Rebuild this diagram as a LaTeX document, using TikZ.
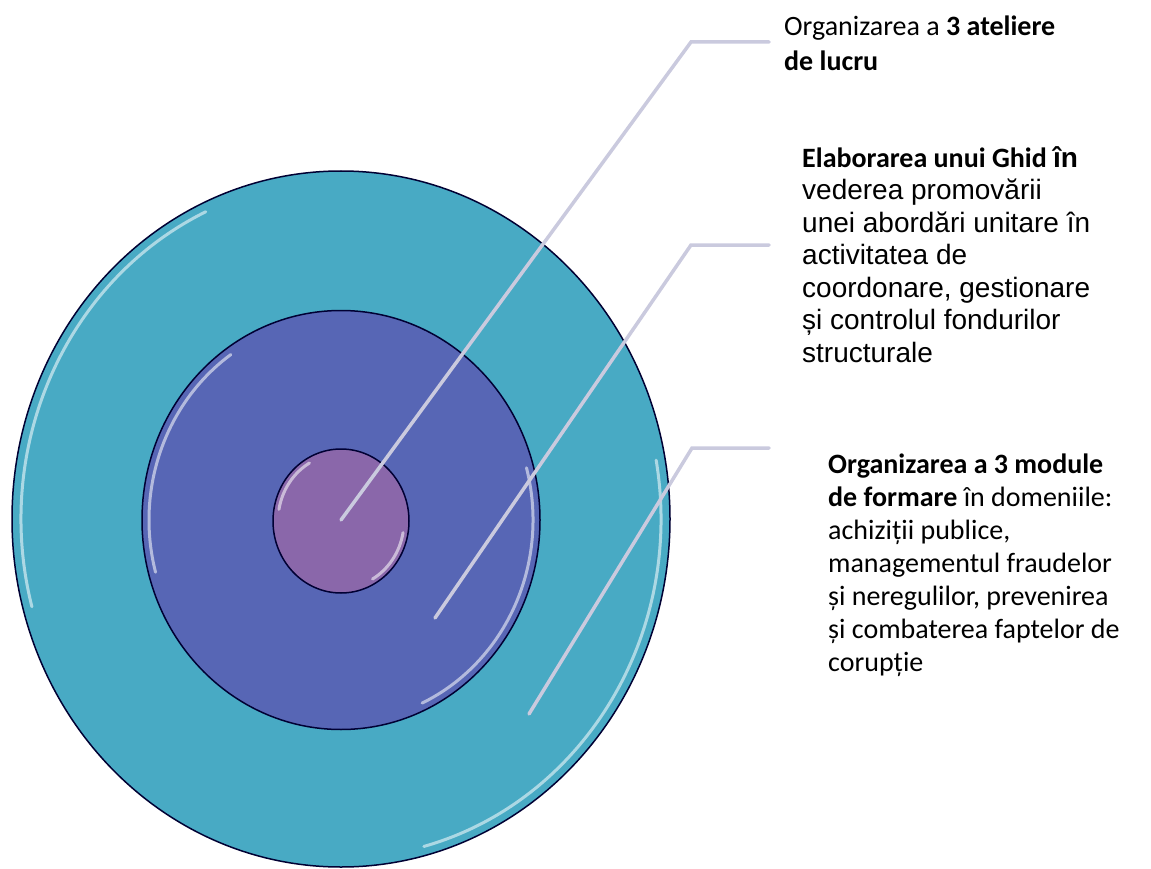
\documentclass[tikz,border=0pt]{standalone}
\usepackage{fontspec}
\setmainfont{Carlito}
\newfontfamily\arialfont{Liberation Sans}
\usetikzlibrary{shapes.geometric,positioning}

\definecolor{ringout}{HTML}{48AAC4}
\definecolor{ringmid}{HTML}{5766B5}
\definecolor{ringin}{HTML}{8A67AA}
\definecolor{leadc}{HTML}{CACADE}

\tikzset{
  ring/.style={ellipse, draw=black!80!blue, line width=1.5pt, inner sep=0pt},
  gloss/.style={white, opacity=0.55, line width=3pt, line cap=round},
  leader/.style={leadc, line width=3.5pt, line cap=round},
  info/.style={anchor=north west, align=left, inner sep=0pt, font=\fontsize{28}{32.5}\selectfont}
}

\begin{document}
\begin{tikzpicture}[x=1pt,y=-1pt]
\useasboundingbox (0,0) rectangle (1151,869);
% rings
\node[ring, fill=ringout, minimum width=658, minimum height=696] (outer) at (341,519) {};
\node[ring, fill=ringmid, minimum width=398, minimum height=419] (middle) at (341,520) {};
\node[ring, fill=ringin, minimum width=136, minimum height=144] (inner) at (341,521) {};

% glossy edges
\draw[gloss] (outer.center) ++(245:320 and 339) arc[start angle=245, end angle=165, x radius=320, y radius=339];
\draw[gloss] (outer.center) ++(-10:320 and 339) arc[start angle=-10, end angle=75, x radius=320, y radius=339];
\draw[gloss] (middle.center) ++(235:192 and 202) arc[start angle=235, end angle=165, x radius=192, y radius=202];
\draw[gloss] (middle.center) ++(-15:192 and 202) arc[start angle=-15, end angle=65, x radius=192, y radius=202];
\draw[gloss] (inner.center) ++(240:63 and 67) arc[start angle=240, end angle=190, x radius=63, y radius=67];
\draw[gloss] (inner.center) ++(10:63 and 67) arc[start angle=10, end angle=60, x radius=63, y radius=67];

% leaders
\coordinate (p1) at (341,520);
\coordinate (k1) at (691,42);
\coordinate (e1) at (769,42);
\coordinate (p2) at (435,618);
\coordinate (k2) at (691,245);
\coordinate (e2) at (769,245);
\coordinate (p3) at (529,714);
\coordinate (k3) at (692,448);
\coordinate (e3) at (769,448);
\draw[leader] (p1) -- (k1) -- (e1);
\draw[leader] (p2) -- (k2) -- (e2);
\draw[leader] (p3) -- (k3) -- (e3);

% texts
\node[info, font=\fontsize{28}{35}\selectfont] (t1) at (784,16)
  {Organizarea a \textbf{3 ateliere}\\\textbf{de lucru}};
\node[info] (t2) at (802,146)
  {\textbf{Elaborarea unui Ghid} {\arialfont\bfseries în}\\
   {\arialfont vederea promovării}\\
   {\arialfont unei abordări unitare în}\\
   {\arialfont activitatea de}\\
   {\arialfont coordonare, gestionare}\\
   {\arialfont și controlul fondurilor}\\
   {\arialfont structurale}};
\node[info, font=\fontsize{28}{33}\selectfont] (t3) at (828,454)
  {\textbf{Organizarea a 3 module}\\
   \textbf{de formare} în domeniile:\\
   achiziții publice,\\
   managementul fraudelor\\
   și neregulilor, prevenirea\\
   și combaterea faptelor de\\
   corupție};
\end{tikzpicture}
\end{document}
